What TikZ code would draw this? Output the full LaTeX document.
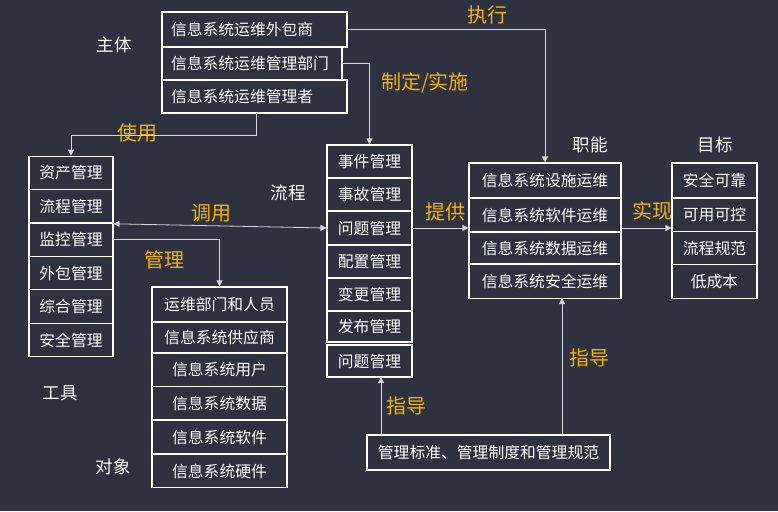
\documentclass[tikz,border=0pt]{standalone}
\usepackage{fontspec}
\newfontfamily\cjk{Noto Sans CJK SC}
\usetikzlibrary{arrows.meta,calc}
\definecolor{bgc}{HTML}{2E3140}
\definecolor{ylw}{HTML}{F5B400}
\definecolor{lnc}{HTML}{D4D6DA}
\tikzset{
  bx/.style={draw=white,line width=1.1pt,text=white,inner sep=0pt,
    font=\cjk\fontsize{15.8}{15.8}\selectfont},
  lbl/.style={text=white,inner sep=0pt,font=\cjk\fontsize{17.5}{17.5}\selectfont},
  ylb/.style={text=ylw,inner sep=0pt,font=\cjk\fontsize{20}{20}\selectfont},
  arr/.style={draw=lnc,line width=0.8pt,-{Triangle[width=6pt,length=6pt]}},
  darr/.style={draw=lnc,line width=0.8pt,{Triangle[width=6pt,length=6pt]}-{Triangle[width=6pt,length=6pt]}},
}
\begin{document}
\begin{tikzpicture}[x=1pt,y=-1pt]
\fill[bgc] (0,0) rectangle (778,511);
\useasboundingbox (0,0) rectangle (778,511);
% top
\node[bx,minimum width=185,minimum height=35,text width=167,inner xsep=9pt,align=left] (t1) at (254.5,29.5) {信息系统运维外包商};
\node[bx,minimum width=180,minimum height=33,text width=162,inner xsep=9pt,align=left] (t2) at (252,63.5) {信息系统运维管理部门};
\node[bx,minimum width=185,minimum height=33,text width=167,inner xsep=9pt,align=left] (t3) at (254.5,96.5) {信息系统运维管理者};
% tools
\tikzset{tl/.style={bx,minimum width=84,minimum height=33.5}}
\node[tl] (a1) at (71,173) {资产管理};
\node[tl] (a2) at (71,206.5) {流程管理};
\node[tl] (a3) at (71,239.5) {监控管理};
\node[tl] (a4) at (71,273) {外包管理};
\node[tl] (a5) at (71,306.5) {综合管理};
\node[tl] (a6) at (71,340) {安全管理};
% objects
\tikzset{ob/.style={bx,minimum width=135,minimum height=33.5}}
\node[ob,minimum height=35] (o1) at (219.5,304.5) {运维部门和人员};
\node[ob,minimum height=31] (o2) at (219.5,337.5) {信息系统供应商};
\node[ob] (o3) at (219.5,369.5) {信息系统用户};
\node[ob] (o4) at (219.5,403) {信息系统数据};
\node[ob] (o5) at (219.5,437) {信息系统软件};
\node[ob] (o6) at (219.5,471) {信息系统硬件};
% process
\tikzset{pr/.style={bx,minimum width=85,minimum height=33}}
\node[pr] (p1) at (369.5,161.5) {事件管理};
\node[pr] (p2) at (369.5,194.5) {事故管理};
\node[pr] (p3) at (369.5,228) {问题管理};
\node[pr] (p4) at (369.5,261.5) {配置管理};
\node[pr] (p5) at (369.5,294.5) {变更管理};
\node[pr,minimum height=31] (p6) at (369.5,326.5) {发布管理};
\node[pr,minimum height=32] (p7) at (369.5,361) {问题管理};
% functions
\tikzset{fn/.style={bx,minimum width=152,minimum height=33.5}}
\node[fn,minimum height=35] (f1) at (545,180.5) {信息系统设施运维};
\node[fn] (f2) at (545,215) {信息系统软件运维};
\node[fn,minimum height=32] (f3) at (545,248) {信息系统数据运维};
\node[fn] (f4) at (545,281.5) {信息系统安全运维};
% goals
\tikzset{gl/.style={bx,minimum width=85,minimum height=33.5}}
\node[gl,minimum height=35] (g1) at (714.5,180.5) {安全可靠};
\node[gl] (g2) at (714.5,214.5) {可用可控};
\node[gl] (g3) at (714.5,248) {流程规范};
\node[gl] (g4) at (714.5,281.5) {低成本};
% standards
\node[bx,minimum width=243,minimum height=35] (s) at (488.5,452.5) {管理标准、管理制度和管理规范};
% labels
\node[lbl] (l1) at (114,45) {主体};
\node[lbl] (l2) at (60,393) {工具};
\node[lbl] (l3) at (113,467) {对象};
\node[lbl] (l4) at (288,193) {流程};
\node[lbl] (l5) at (590,145) {职能};
\node[lbl] (l6) at (715,145) {目标};
\node[ylb] (y1) at (487,15) {执行};
\node[ylb] (y2) at (425,83) {制定/实施};
\node[ylb] (y3) at (137,133) {使用};
\node[ylb] (y4) at (211,213) {调用};
\node[ylb] (y5) at (164,260) {管理};
\node[ylb] (y6) at (445,212) {提供};
\node[ylb] (y7) at (652,211) {实现};
\node[ylb] (y8) at (406,406) {指导};
\node[ylb] (y9) at (589,358) {指导};
% connectors
\coordinate (c1) at (71,135);
\coordinate (c2) at (381,377);
\coordinate (c3) at (562,298);
\coordinate (c4) at (256,113);
\draw[arr] (t1.east) -| (f1.north);
\draw[arr] (t2.east) -| (p1.north);
\draw[arr] (c4) |- (c1) -- (a1.north);
\draw[darr] (a2.south east) -- (p3.west);
\draw[arr] (a3.east) -| (o1.north);
\draw[arr] (p3.east) -- (p3.east -| f2.west);
\draw[arr] (f2.east |- p3.east) -- (g2.west |- p3.east);
\draw[arr] (s.north -| c2) -- (c2);
\draw[arr] (s.north -| c3) -- (c3);
\end{tikzpicture}
\end{document}
